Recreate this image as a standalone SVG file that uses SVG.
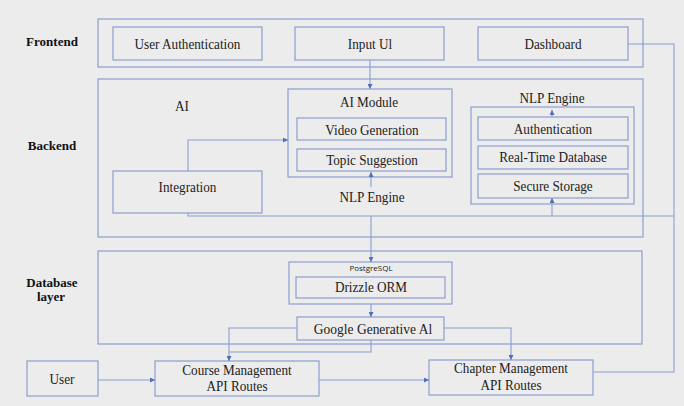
<svg xmlns="http://www.w3.org/2000/svg" width="684" height="406" viewBox="0 0 684 406">
  <defs>
    <style>
      .bg { fill: #ececec; }
      .box { fill: none; stroke: #8a9ed0; stroke-width: 1.2; }
      .ln { fill: none; stroke: #8a9ed0; stroke-width: 1.1; }
      .t { font-family: "Liberation Serif", "Times New Roman", serif; font-size: 15px; fill: #222; text-anchor: middle; }
      .lbl { font-family: "Liberation Serif", "Times New Roman", serif; font-size: 13px; font-weight: bold; fill: #111; text-anchor: middle; }
      .s { font-family: "Open Sans", "Liberation Sans", sans-serif; font-size: 8px; fill: #222; text-anchor: middle; }
    </style>
    <marker id="ah" viewBox="0 0 6 6" refX="6" refY="3" markerWidth="5" markerHeight="5" markerUnits="userSpaceOnUse" orient="auto">
      <path d="M0,0 L6,3 L0,6 z" fill="#4f6fb8"/>
    </marker>
  </defs>
  <rect class="bg" x="0" y="0" width="684" height="406"/>

  <!-- layer labels -->
  <g id="layer-labels">
    <text class="lbl" x="52" y="46">Frontend</text>
    <text class="lbl" x="52" y="150">Backend</text>
    <text class="lbl" x="52" y="287">Database</text>
    <text class="lbl" x="51" y="301">layer</text>
  </g>

  <!-- containers -->
  <g id="frontend">
    <rect class="box" x="98" y="19" width="545" height="48"/>
  </g>
  <g id="backend">
    <rect class="box" x="98" y="79" width="545" height="158"/>
    <text class="t" transform="translate(182 111) scale(0.88 1)">AI</text>
  </g>
  <g id="database-layer">
    <rect class="box" x="98" y="251" width="544" height="93"/>
  </g>

  <!-- frontend nodes -->
  <g id="user-authentication">
    <rect class="box" x="113" y="27" width="149" height="33"/>
    <text class="t" transform="translate(187.5 49) scale(0.88 1)">User Authentication</text>
  </g>
  <g id="input-ui">
    <rect class="box" x="295" y="27" width="149" height="33"/>
    <text class="t" transform="translate(370 49) scale(0.88 1)">Input Ul</text>
  </g>
  <g id="dashboard">
    <rect class="box" x="478" y="27" width="150" height="33"/>
    <text class="t" transform="translate(553 49) scale(0.88 1)">Dashboard</text>
  </g>

  <!-- backend nodes -->
  <g id="ai-module">
    <rect class="box" x="288" y="89" width="164" height="88"/>
    <text class="t" transform="translate(369 107) scale(0.88 1)">AI Module</text>
  </g>
  <g id="video-generation">
    <rect class="box" x="297" y="118" width="149" height="22"/>
    <text class="t" transform="translate(372 135) scale(0.88 1)">Video Generation</text>
  </g>
  <g id="topic-suggestion">
    <rect class="box" x="297" y="149" width="149" height="22"/>
    <text class="t" transform="translate(372 165) scale(0.88 1)">Topic Suggestion</text>
  </g>
  <g id="nlp-engine-ai">
    <text class="t" transform="translate(372 202) scale(0.88 1)">NLP Engine</text>
  </g>
  <g id="integration">
    <rect class="box" x="113" y="171" width="149" height="42"/>
    <text class="t" transform="translate(187.5 192) scale(0.88 1)">Integration</text>
  </g>
  <g id="nlp-engine">
    <rect class="box" x="471" y="107" width="163" height="97"/>
    <text class="t" transform="translate(552 103) scale(0.88 1)">NLP Engine</text>
  </g>
  <g id="authentication">
    <rect class="box" x="478" y="117" width="150" height="23"/>
    <text class="t" transform="translate(553 134) scale(0.88 1)">Authentication</text>
  </g>
  <g id="real-time-database">
    <rect class="box" x="478" y="146" width="150" height="23"/>
    <text class="t" transform="translate(553 162) scale(0.88 1)">Real-Time Database</text>
  </g>
  <g id="secure-storage">
    <rect class="box" x="478" y="174" width="150" height="24"/>
    <text class="t" transform="translate(553 191) scale(0.88 1)">Secure Storage</text>
  </g>

  <!-- database nodes -->
  <g id="postgresql">
    <rect class="box" x="289" y="262" width="163" height="42"/>
    <text class="s" x="371" y="271">PostgreSQL</text>
  </g>
  <g id="drizzle-orm">
    <rect class="box" x="296" y="277" width="149" height="21"/>
    <text class="t" transform="translate(371 292) scale(0.88 1)">Drizzle ORM</text>
  </g>
  <g id="google-generative-ai">
    <rect class="box" x="297" y="317" width="147" height="23"/>
    <text class="t" transform="translate(373 334) scale(0.9 1)">Google Generative Al</text>
  </g>

  <!-- bottom nodes -->
  <g id="user">
    <rect class="box" x="27" y="361" width="71" height="35"/>
    <text class="t" transform="translate(62 384) scale(0.88 1)">User</text>
  </g>
  <g id="course-management">
    <rect class="box" x="155" y="361" width="164" height="35"/>
    <text class="t" transform="translate(237 375) scale(0.88 1)">Course Management</text>
    <text class="t" transform="translate(237 391) scale(0.88 1)">API Routes</text>
  </g>
  <g id="chapter-management">
    <rect class="box" x="429" y="360" width="164" height="35"/>
    <text class="t" transform="translate(511 373) scale(0.88 1)">Chapter Management</text>
    <text class="t" transform="translate(511 390) scale(0.88 1)">API Routes</text>
  </g>

  <!-- connectors -->
  <g id="connectors">
    <path class="ln" d="M370,60 V89" marker-end="url(#ah)"/>
    <path class="ln" d="M188,171 V140 H288" marker-end="url(#ah)"/>
    <path class="ln" d="M371,187 V172" marker-end="url(#ah)"/>
    <path class="ln" d="M552,117 V110" marker-end="url(#ah)"/>
    <path class="ln" d="M188,213 V216 H674"/>
    <path class="ln" d="M552,216 V198" marker-end="url(#ah)"/>
    <path class="ln" d="M628,44 H674 V372 H593"/>
    <path class="ln" d="M371,216 V262" marker-end="url(#ah)"/>
    <path class="ln" d="M371,304 V317" marker-end="url(#ah)"/>
    <path class="ln" d="M297,328 H229 V361" marker-end="url(#ah)"/>
    <path class="ln" d="M371,340 V352 H229"/>
    <path class="ln" d="M444,328 H511 V360" marker-end="url(#ah)"/>
    <path class="ln" d="M98,380 H155" marker-end="url(#ah)"/>
    <path class="ln" d="M319,380 H429" marker-end="url(#ah)"/>
  </g>
</svg>
